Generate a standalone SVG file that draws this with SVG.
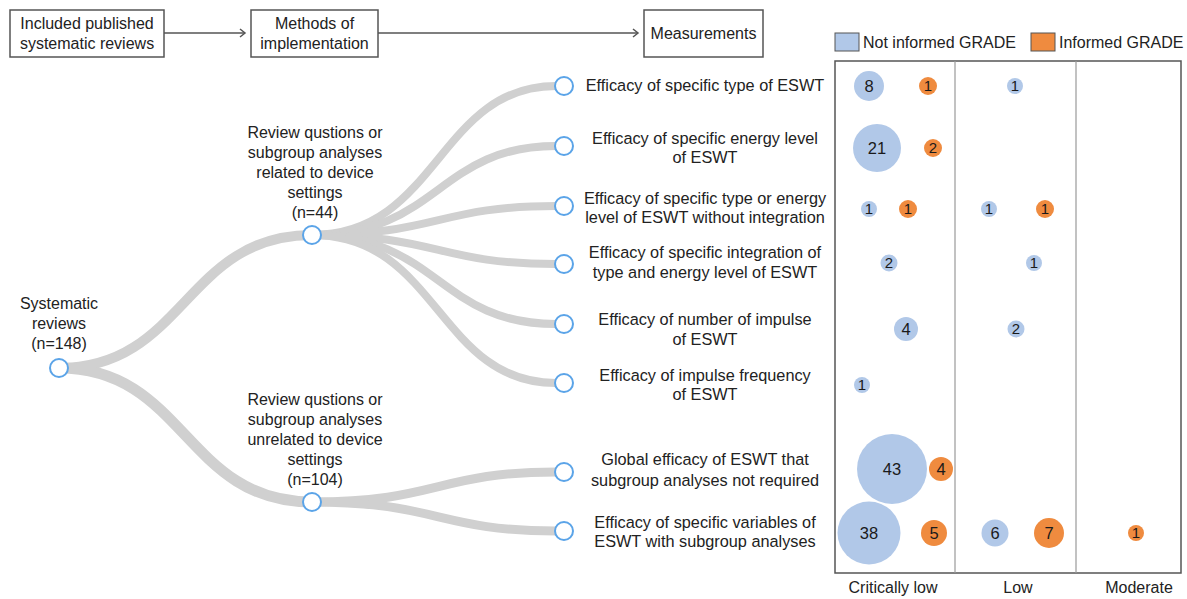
<svg xmlns="http://www.w3.org/2000/svg" width="1187" height="599" viewBox="0 0 1187 599">
<style>
text{font-family:"Liberation Sans",Arial,sans-serif;font-size:16px;fill:#222;}
.c{text-anchor:middle;}
.lf{font-size:16.3px;}
.box{fill:#fff;stroke:#555;stroke-width:1.5;}
.arr{stroke:#555;stroke-width:1.5;fill:none;}
.link{fill:none;stroke:#d0d0d0;stroke-linecap:butt;}
.node{fill:#fff;stroke:#5ba4e8;stroke-width:2;}
.nb{fill:#b1c8e8;}
.ob{fill:#ef8b3f;}
.n{font-size:15px;text-anchor:middle;fill:#1a1a1a;}
.nl{font-size:16.5px;text-anchor:middle;fill:#1a1a1a;}
</style>
<defs>
<marker id="chev" markerWidth="10" markerHeight="10" refX="7" refY="5" orient="auto" markerUnits="userSpaceOnUse">
<path d="M2,1 L7,5 L2,9" fill="none" stroke="#555" stroke-width="1.5"/>
</marker>
</defs>
<rect width="1187" height="599" fill="#fff"/>

<g id="connectors">
<path class="arr" d="M164,33 H245" marker-end="url(#chev)"/>
<path class="arr" d="M378,33 H638" marker-end="url(#chev)"/>
<path class="link" stroke-width="10" d="M59,368 C185,368 185,235 312,235"/>
<path class="link" stroke-width="11" d="M59,368 C185,368 185,502 312,502"/>
<path class="link" stroke-width="8" d="M312,235 C438,235 438,86 556,86"/>
<path class="link" stroke-width="8" d="M312,235 C438,235 438,146 556,146"/>
<path class="link" stroke-width="8" d="M312,235 C438,235 438,206 556,206"/>
<path class="link" stroke-width="8" d="M312,235 C438,235 438,264 556,264"/>
<path class="link" stroke-width="8" d="M312,235 C438,235 438,324 556,324"/>
<path class="link" stroke-width="8" d="M312,235 C438,235 438,383 556,383"/>
<path class="link" stroke-width="9" d="M312,502 C438,502 438,472 556,472"/>
<path class="link" stroke-width="9" d="M312,502 C438,502 438,531 556,531"/>
</g>

<g id="box-included">
<rect class="box" x="10" y="10" width="154" height="47"/>
<text class="c" x="87" y="29">Included published</text>
<text class="c" x="87" y="49">systematic reviews</text>
</g>
<g id="box-methods">
<rect class="box" x="251" y="10" width="127" height="47"/>
<text class="c" x="314.5" y="29">Methods of</text>
<text class="c" x="314.5" y="49">implementation</text>
</g>
<g id="box-measurements">
<rect class="box" x="644" y="10" width="119" height="47"/>
<text class="c" x="703.5" y="39">Measurements</text>
</g>

<g id="node-root">
<circle class="node" cx="59" cy="368" r="9"/>
<text class="c" x="59" y="309">Systematic</text>
<text class="c" x="59" y="329">reviews</text>
<text class="c" x="59" y="349">(n=148)</text>
</g>
<g id="node-related">
<circle class="node" cx="312" cy="235" r="9"/>
<text class="c" x="315" y="138">Review qustions or</text>
<text class="c" x="315" y="158">subgroup analyses</text>
<text class="c" x="315" y="178">related to device</text>
<text class="c" x="315" y="198">settings</text>
<text class="c" x="315" y="218">(n=44)</text>
</g>
<g id="node-unrelated">
<circle class="node" cx="312" cy="502" r="9"/>
<text class="c" x="315" y="405">Review qustions or</text>
<text class="c" x="315" y="425">subgroup analyses</text>
<text class="c" x="315" y="445">unrelated to device</text>
<text class="c" x="315" y="465">settings</text>
<text class="c" x="315" y="485">(n=104)</text>
</g>

<g id="leaf-1">
<circle class="node" cx="564" cy="86" r="9"/>
<text class="c lf" x="705" y="91">Efficacy of specific type of ESWT</text>
</g>
<g id="leaf-2">
<circle class="node" cx="564" cy="146" r="9"/>
<text class="c lf" x="705" y="144">Efficacy of specific energy level</text>
<text class="c lf" x="705" y="163">of ESWT</text>
</g>
<g id="leaf-3">
<circle class="node" cx="564" cy="206" r="9"/>
<text class="c lf" x="705" y="204">Efficacy of specific type or energy</text>
<text class="c lf" x="705" y="223">level of ESWT without integration</text>
</g>
<g id="leaf-4">
<circle class="node" cx="564" cy="264" r="9"/>
<text class="c lf" x="705" y="258">Efficacy of specific integration of</text>
<text class="c lf" x="705" y="278">type and energy level of ESWT</text>
</g>
<g id="leaf-5">
<circle class="node" cx="564" cy="324" r="9"/>
<text class="c lf" x="705" y="325">Efficacy of number of impulse</text>
<text class="c lf" x="705" y="345">of ESWT</text>
</g>
<g id="leaf-6">
<circle class="node" cx="564" cy="383" r="9"/>
<text class="c lf" x="705" y="381">Efficacy of impulse frequency</text>
<text class="c lf" x="705" y="400">of ESWT</text>
</g>
<g id="leaf-7">
<circle class="node" cx="564" cy="472" r="9"/>
<text class="c lf" x="705" y="465">Global efficacy of ESWT that</text>
<text class="c lf" x="705" y="486">subgroup analyses not required</text>
</g>
<g id="leaf-8">
<circle class="node" cx="564" cy="531" r="9"/>
<text class="c lf" x="705" y="528">Efficacy of specific variables of</text>
<text class="c lf" x="705" y="547">ESWT with subgroup analyses</text>
</g>

<g id="legend">
<rect x="835" y="33" width="24" height="18" fill="#b1c8e8" stroke="#555" stroke-width="1"/>
<text x="863" y="48">Not informed GRADE</text>
<rect x="1031" y="33" width="24" height="18" fill="#ef8b3f" stroke="#555" stroke-width="1"/>
<text x="1059" y="48">Informed GRADE</text>
</g>

<g id="chart">
<rect x="835" y="61" width="346" height="512" fill="#fff" stroke="#555" stroke-width="1.5"/>
<line x1="955" y1="61" x2="955" y2="573" stroke="#999" stroke-width="1.2"/>
<line x1="1076" y1="61" x2="1076" y2="573" stroke="#999" stroke-width="1.2"/>
<text class="c" x="893" y="593">Critically low</text>
<text class="c" x="1018" y="593">Low</text>
<text class="c" x="1139" y="593">Moderate</text>
</g>

<g id="bubbles">
<circle class="nb" cx="869" cy="86" r="15"/><text class="nl" x="869" y="92">8</text>
<circle class="ob" cx="928" cy="86" r="9"/><text class="n" x="928" y="91">1</text>
<circle class="nb" cx="1015" cy="86" r="8"/><text class="n" x="1015" y="91">1</text>

<circle class="nb" cx="877" cy="148" r="24"/><text class="nl" x="877" y="154">21</text>
<circle class="ob" cx="933" cy="148" r="9"/><text class="n" x="933" y="153">2</text>

<circle class="nb" cx="869" cy="209" r="8"/><text class="n" x="869" y="214">1</text>
<circle class="ob" cx="908" cy="209" r="9"/><text class="n" x="908" y="214">1</text>
<circle class="nb" cx="989" cy="209" r="8"/><text class="n" x="989" y="214">1</text>
<circle class="ob" cx="1045" cy="209" r="9"/><text class="n" x="1045" y="214">1</text>

<circle class="nb" cx="889" cy="263" r="8.5"/><text class="n" x="889" y="268">2</text>
<circle class="nb" cx="1034" cy="263" r="8"/><text class="n" x="1034" y="268">1</text>

<circle class="nb" cx="906" cy="329" r="12"/><text class="nl" x="906" y="335">4</text>
<circle class="nb" cx="1016" cy="329" r="8.5"/><text class="n" x="1016" y="334">2</text>

<circle class="nb" cx="862" cy="385" r="8"/><text class="n" x="862" y="390">1</text>

<circle class="nb" cx="892" cy="469" r="35"/><text class="nl" x="892" y="475">43</text>
<circle class="ob" cx="941" cy="469" r="12"/><text class="nl" x="941" y="475">4</text>

<circle class="nb" cx="869" cy="533" r="31.5"/><text class="nl" x="869" y="539">38</text>
<circle class="ob" cx="934" cy="533" r="13"/><text class="nl" x="934" y="539">5</text>
<circle class="nb" cx="995" cy="533" r="13.5"/><text class="nl" x="995" y="539">6</text>
<circle class="ob" cx="1049" cy="533" r="15"/><text class="nl" x="1049" y="539">7</text>
<circle class="ob" cx="1136" cy="533" r="8"/><text class="n" x="1136" y="538">1</text>
</g>
</svg>
